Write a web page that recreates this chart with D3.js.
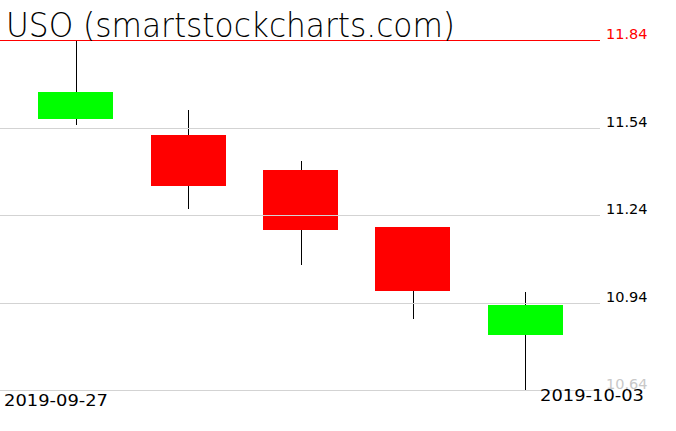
<!DOCTYPE html>
<html>
<head>
<meta charset="utf-8">
<script src="https://cdn.jsdelivr.net/npm/d3@7.9.0/dist/d3.min.js"></script>
<style>
  body { margin: 0; background: #fff; }
  svg { display: block; }
  text { font-family: "DejaVu Sans", "Liberation Sans", sans-serif; }
</style>
</head>
<body>
<svg id="chart" width="676" height="431"></svg>
<script>
// candle data
const dates = ['2019-09-27', '2019-09-30', '2019-10-01', '2019-10-02', '2019-10-03'];
const opens = [11.568, 11.513, 11.393, 11.200, 10.828];
const highs = [11.84, 11.602, 11.430, 11.201, 10.981];
const lows = [11.548, 11.260, 11.068, 10.883, 10.64];
const closes = [11.663, 11.339, 11.188, 10.979, 10.933];

// price levels shown on the right
const levels = [10.64, 10.94, 11.24, 11.54, 11.84];
const title = 'USO (smartstockcharts.com)';

const candles = dates.map((d, i) => ({
  date: d, open: opens[i], high: highs[i], low: lows[i], close: closes[i]
}));

const svg = d3.select('#chart');

// scales
const x = d3.scaleBand()
  .domain(dates)
  .range([19.5, 581.5])
  .paddingInner(1 / 3)
  .paddingOuter(1 / 6);

const y = d3.scaleLinear()
  .domain([10.64, 11.84])
  .range([390, 40]);

// wicks first, bodies on top of them
svg.append('g')
  .selectAll('line')
  .data(candles)
  .join('line')
  .attr('x1', d => Math.round(x(d.date) + x.bandwidth() / 2) + 0.5)
  .attr('x2', d => Math.round(x(d.date) + x.bandwidth() / 2) + 0.5)
  .attr('y1', d => y(d.high) + 1)
  .attr('y2', d => y(d.low))
  .attr('stroke', '#000')
  .attr('stroke-width', 1)
  .attr('shape-rendering', 'crispEdges');

svg.append('g')
  .selectAll('rect')
  .data(candles)
  .join('rect')
  .attr('x', d => x(d.date))
  .attr('width', x.bandwidth())
  .attr('y', d => y(Math.max(d.open, d.close)))
  .attr('height', d => Math.abs(y(d.open) - y(d.close)))
  .attr('fill', d => d.close >= d.open ? '#00ff00' : '#ff0000')
  .attr('shape-rendering', 'crispEdges');

// grid lines + labels (drawn over the candles like the original)
const yAxis = d3.axisRight(y)
  .tickValues(levels)
  .tickSize(600)
  .tickPadding(6)
  .tickFormat(d3.format('.2f'));

const topLevel = d3.max(levels);
const lowLevel = d3.min(levels);

const gy = svg.append('g').call(yAxis);
gy.select('.domain').remove();
gy.selectAll('.tick').attr('color', d => d === topLevel ? '#ff0000' : '#d3d3d3');
gy.selectAll('.tick line')
  .style('stroke', d => d === topLevel ? '#ff0000' : '#d3d3d3')
  .attr('shape-rendering', 'crispEdges');
gy.selectAll('.tick text')
  .attr('dy', '-0.1em')
  .attr('font-size', 14.5)
  .attr('font-family', '"DejaVu Sans", sans-serif')
  .style('fill', d => d === topLevel ? '#ff0000' : d === lowLevel ? '#c8c8c8' : '#000');

// title
svg.append('text')
  .attr('x', 6)
  .attr('y', 37)
  .attr('font-size', 34)
  .attr('font-weight', 200)
  .attr('textLength', 449)
  .attr('lengthAdjust', 'spacingAndGlyphs')
  .attr('fill', '#000')
  .text(title);

// first and last date
svg.append('text')
  .attr('x', 4)
  .attr('y', 406)
  .attr('font-size', 15)
  .attr('fill', '#000')
  .attr('textLength', 104)
  .attr('lengthAdjust', 'spacingAndGlyphs')
  .text(dates[0]);

svg.append('text')
  .attr('x', 644)
  .attr('y', 401)
  .attr('text-anchor', 'end')
  .attr('font-size', 15)
  .attr('fill', '#000')
  .attr('textLength', 104)
  .attr('lengthAdjust', 'spacingAndGlyphs')
  .text(dates[dates.length - 1]);
</script>
</body>
</html>
